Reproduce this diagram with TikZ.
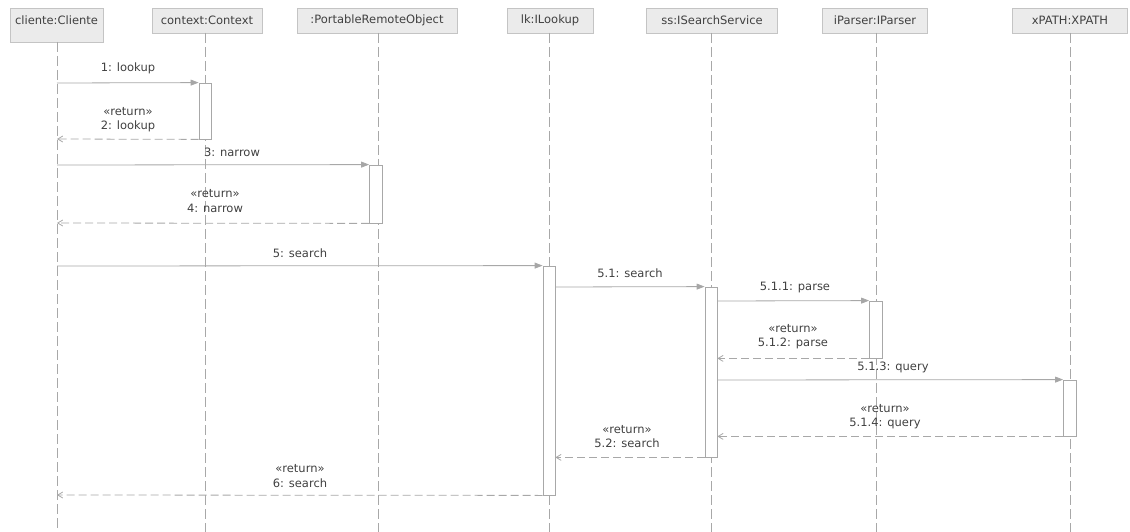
\documentclass[tikz,border=0pt]{standalone}
\usepackage{fontspec}
\setmainfont{DejaVu Sans}
\usetikzlibrary{arrows.meta}
\definecolor{ln}{HTML}{A8A8A8}
\definecolor{tx}{HTML}{404040}
\definecolor{hf}{HTML}{EBEBEB}
\definecolor{hb}{HTML}{C4C4C4}
\tikzset{
  hdr/.style={draw=hb, fill=hf, line width=0.8pt, minimum height=25pt, inner sep=0pt, text=tx, font=\fontsize{11.5}{13}\selectfont},
  life/.style={draw=ln, line width=0.8pt, dash pattern=on 10pt off 4pt},
  act/.style={draw=ln, fill=white, line width=0.8pt, minimum width=12pt, inner sep=0pt},
  call/.style={draw=ln, line width=0.8pt, -{Triangle[length=8pt,width=6pt,fill=gray!70]}},
  ret/.style={draw=ln, line width=0.8pt, dash pattern=on 8pt off 4pt, -{Straight Barb[length=5pt,width=6pt]}},
  lbl/.style={text=tx, font=\fontsize{11.5}{14.5}\selectfont, align=center, inner sep=0pt}
}
\begin{document}
\begin{tikzpicture}[x=1pt,y=-1pt]
\useasboundingbox (0,0) rectangle (1130,532);
% headers
\node[hdr, minimum width=93pt, minimum height=34pt] (hc) at (56.5,25) {};
\node[text=tx, font=\fontsize{11.5}{13}\selectfont, inner sep=0pt] (hct) at (56.5,20) {cliente:Cliente};
\node[hdr, minimum width=110pt] (hx) at (207,20.5) {context:Context};
\node[hdr, minimum width=160pt] (hp) at (377,20.5) {:PortableRemoteObject};
\node[hdr, minimum width=86pt] (hl) at (550,20.5) {lk:ILookup};
\node[hdr, minimum width=131pt] (hs) at (712,20.5) {ss:ISearchService};
\node[hdr, minimum width=105pt] (hi) at (875,20.5) {iParser:IParser};
\node[hdr, minimum width=115pt] (hpx) at (1070,20.5) {xPATH:XPATH};
% lifeline ends
\coordinate (ec) at (57,532);
\coordinate (ex) at (205,532);
\coordinate (ep) at (378,532);
\coordinate (el) at (549,532);
\coordinate (es) at (711,532);
\coordinate (ei) at (876,532);
\coordinate (ey) at (1070,532);
\draw[life] (57,42) -- (ec);
\draw[life] (205,33) -- (ex);
\draw[life] (378,33) -- (ep);
\draw[life] (549,33) -- (el);
\draw[life] (711,33) -- (es);
\draw[life] (876,33) -- (ei);
\draw[life] (1070,33) -- (ey);
% activations
\node[act, minimum height=56pt] (a1) at (205,111) {};
\node[act, minimum height=58pt, minimum width=13pt] (a2) at (376,194) {};
\node[act, minimum height=229pt] (a3) at (549,380.5) {};
\node[act, minimum height=170pt] (a4) at (711,372) {};
\node[act, minimum height=57pt, minimum width=13pt] (a5) at (876,329.5) {};
\node[act, minimum height=56pt, minimum width=13pt] (a6) at (1070,408) {};
% lifeline points on cliente
\coordinate (c1) at (57,83);
\coordinate (c2) at (57,139);
\coordinate (c3) at (57,165);
\coordinate (c4) at (57,223);
\coordinate (c5) at (57,266);
\coordinate (c6) at (57,495);
% messages
\draw[call] (c1) -- (a1.north west);
\node[lbl] (m1) at (128,68) {1: lookup};
\draw[ret] (a1.south west) -- (c2);
\node[lbl] (m2) at (128,119.5) {«return»\\2: lookup};
\draw[call] (c3) -- (a2.north west);
\node[lbl] (m3) at (232,152) {3: narrow};
\draw[ret] (a2.south west) -- (c4);
\node[lbl] (m4) at (215,201) {«return»\\4: narrow};
\draw[call] (c5) -- (a3.north west);
\node[lbl] (m5) at (300,253) {5: search};
\draw[call] (a3.north east |- 0,287) -- (a4.north west);
\node[lbl] (m51) at (630,273) {5.1: search};
\draw[call] (a4.east |- 0,301) -- (a5.north west);
\node[lbl] (m511) at (795,288) {5.1.1: parse};
\draw[ret] (a5.south west) -- (a4.east |- a5.south west);
\node[lbl] (m512) at (793,336.5) {«return»\\5.1.2: parse};
\draw[call] (a4.east |- 0,380) -- (a6.north west);
\node[lbl] (m513) at (893,367) {5.1.3: query};
\draw[ret] (a6.south west) -- (a4.east |- a6.south west);
\node[lbl] (m514) at (885,416.5) {«return»\\5.1.4: query};
\draw[ret] (a4.south west) -- (a3.east |- a4.south west);
\node[lbl] (m52) at (627,436.5) {«return»\\5.2: search};
\draw[ret] (a3.south west) -- (c6);
\node[lbl] (m6) at (300,476) {«return»\\6: search};
\end{tikzpicture}
\end{document}
